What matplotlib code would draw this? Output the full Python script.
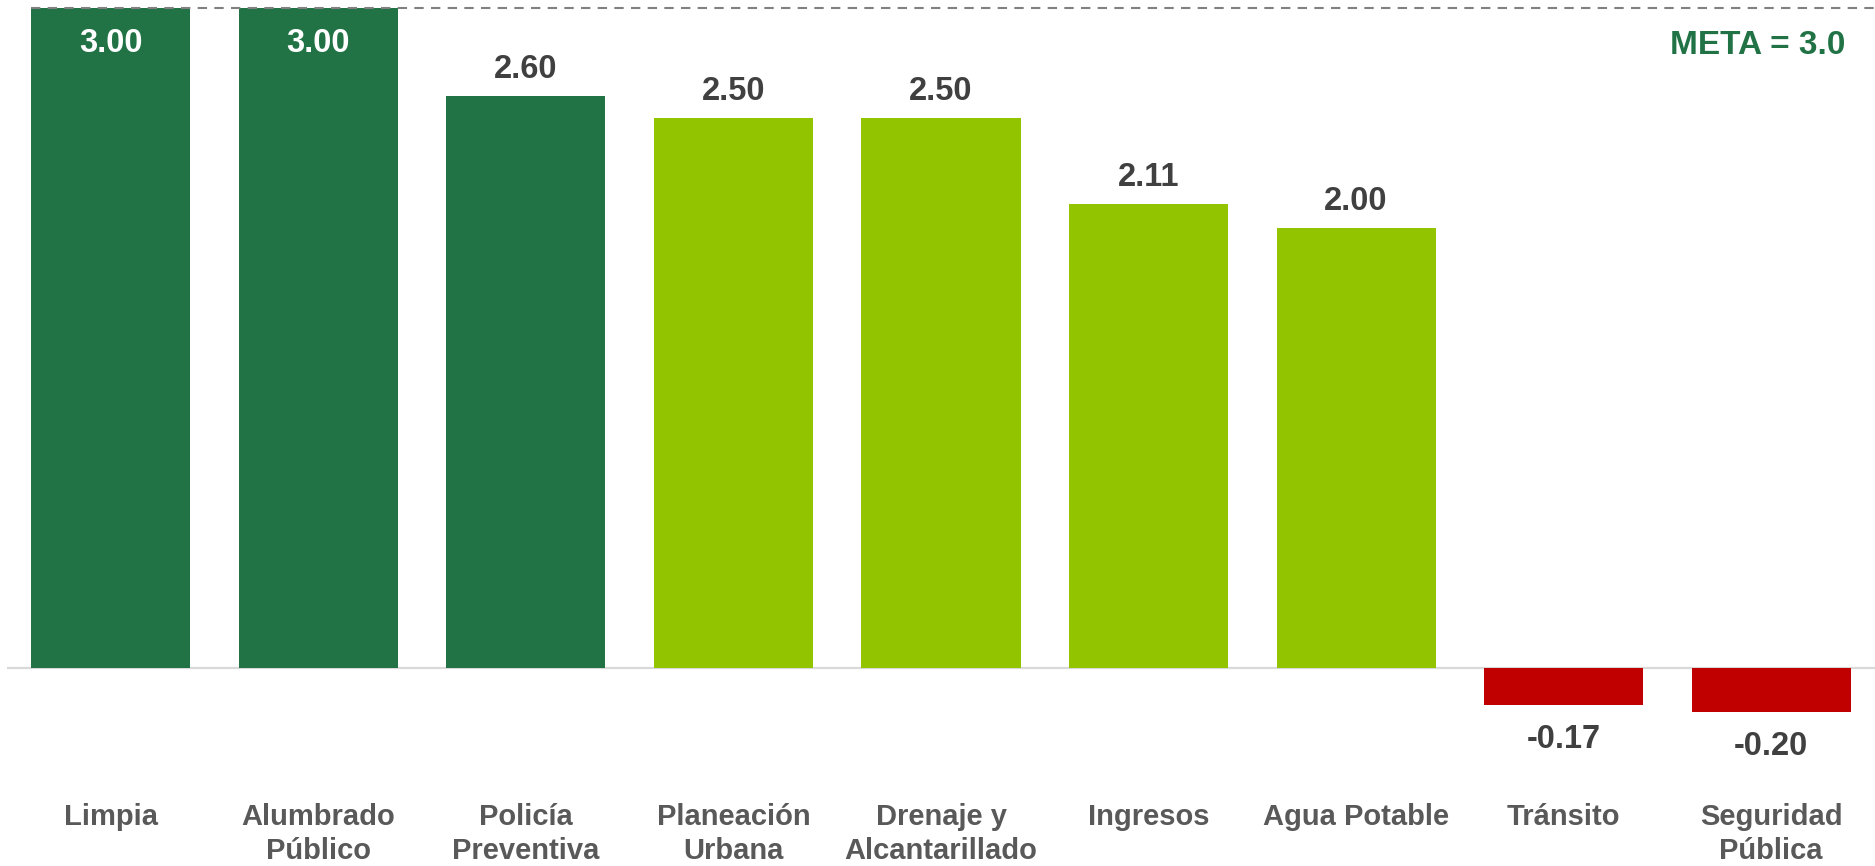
import matplotlib
matplotlib.use("Agg")
import matplotlib.pyplot as plt

# data
categories = ["Limpia", "Alumbrado\nPúblico", "Policía\nPreventiva", "Planeación\nUrbana",
              "Drenaje y\nAlcantarillado", "Ingresos", "Agua Potable", "Tránsito",
              "Seguridad\nPública"]
values = [3.00, 3.00, 2.60, 2.50, 2.50, 2.11, 2.00, -0.17, -0.20]
meta = 3.0

DARK = "#217346"
LIGHT = "#92C400"
RED = "#C00000"
bar_colors = [DARK, DARK, DARK, LIGHT, LIGHT, LIGHT, LIGHT, RED, RED]

plt.rcParams["font.family"] = ["Liberation Sans", "DejaVu Sans"]
plt.rcParams["font.weight"] = "bold"

fig = plt.figure(figsize=(18.75, 8.66), dpi=100)
ax = fig.add_axes([7 / 1875, 0, 1 - 7 / 1875, 1])
ax.set_xlim(-0.5, len(categories) - 0.5)
ax.set_ylim(-0.9, 668 / 220)
ax.axis("off")

width = 0.767
x = range(len(categories))
ax.axhline(0, color="#d9d9d9", lw=1.6, zorder=1)
ax.bar(x, values, width=width, color=bar_colors, zorder=2)

# meta line
ax.hlines(meta, -width / 2, len(categories) - 0.5, colors="#808080", lw=1.5,
          linestyles=(0, (4.5, 3.5)), zorder=3)
ax.annotate(f"META = {meta:.1f}", xy=(1, meta), xycoords=("axes fraction", "data"),
            xytext=(-21, -33), textcoords="offset points", ha="right", va="baseline",
            fontsize=24, fontweight="bold", color=DARK)

for i, v in enumerate(values):
    if v >= meta:
        off, col = -32, "white"
    elif v >= 0:
        off, col = 13, "#404040"
    else:
        off, col = -31, "#404040"
    ax.annotate(f"{v:.2f}", xy=(i, v), xytext=(0, off), textcoords="offset points",
                ha="center", va="baseline", fontsize=23.5, fontweight="bold", color=col)
    ax.annotate(categories[i], xy=(i, 0), xytext=(0, -97), textcoords="offset points",
                ha="center", va="top", fontsize=21, fontweight="bold", color="#595959",
                linespacing=1.3)

fig.savefig("out.png", dpi=100)
